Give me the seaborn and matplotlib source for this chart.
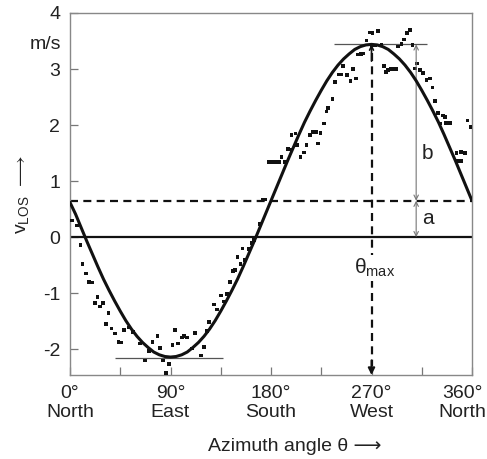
import numpy as np
import pandas as pd
import seaborn as sns
import matplotlib.pyplot as plt
import matplotlib.transforms as mtransforms

# fitted sine curve, read every 5 degrees
fit_deg = list(range(0, 365, 5))
fit_v = [0.62, 0.41, 0.17, -0.07, -0.30, -0.53, -0.75, -0.95, -1.14, -1.32,
         -1.49, -1.64, -1.77, -1.88, -1.97, -2.05, -2.10, -2.13, -2.14, -2.13,
         -2.10, -2.05, -1.97, -1.88, -1.77, -1.64, -1.49, -1.32, -1.14, -0.95,
         -0.75, -0.53, -0.30, -0.07, 0.17, 0.41, 0.65, 0.89, 1.13, 1.37,
         1.60, 1.83, 2.05, 2.25, 2.44, 2.62, 2.79, 2.94, 3.07, 3.18,
         3.27, 3.35, 3.40, 3.43, 3.44, 3.43, 3.40, 3.35, 3.27, 3.18,
         3.07, 2.94, 2.79, 2.62, 2.44, 2.25, 2.05, 1.83, 1.60, 1.37,
         1.13, 0.89, 0.65]

# measured radial velocities
obs_deg = [1.5, 6, 9.5, 11.3, 14.3, 17.3, 20, 22.4, 24.5, 26.9, 29.8, 32.2, 34.6,
           37.3, 40.3, 43.3, 45.7, 48.6, 52.8, 56.7, 62.7, 67.1, 71, 74, 78.5,
           80.6, 83.5, 86, 88.9, 91.9, 94, 97, 100, 102.3, 105, 109, 112, 117.3,
           120, 122.4, 124.4, 129, 131.9, 135, 138, 140.8, 143, 146, 147.7, 150,
           152.8, 154.6, 156.7, 160.5, 162.6, 165, 170, 172.5, 175, 178, 181,
           184, 187, 189.5, 192.5, 195.4, 198.4, 198.4, 202, 203.5, 206.5, 209.5,
           211.9, 214.9, 217.8, 220, 222.3, 224.4, 227.5, 229.8, 231.3, 235.2,
           237.2, 241, 243, 244.7, 248.3, 251.3, 253.7, 256, 258, 260.3, 262.6,
           265.6, 268.6, 271, 276, 270, 273, 279, 281, 283, 285, 287.5, 290, 292,
           294, 297, 299, 302, 304.4, 306.8, 308.9, 311, 313.3, 316.3, 319.3,
           322.3, 324.7, 326.8, 329.7, 331.9, 334, 335.7, 337, 340, 346, 347.6,
           350, 350.7, 353.6, 356, 358.7]
obs_v = [0.30, 0.21, -0.14, -0.48, -0.65, -0.80, -0.81, -1.18, -1.07, -1.24, -1.17,
         -1.55, -1.35, -1.63, -1.72, -1.87, -1.88, -1.66, -1.61, -1.69, -1.90, -2.20,
         -2.03, -1.87, -1.77, -1.98, -2.20, -2.43, -2.26, -1.93, -1.66, -1.90, -1.79,
         -1.77, -1.79, -1.99, -1.71, -2.11, -1.96, -1.68, -1.51, -1.20, -1.29, -1.04,
         -1.15, -1.02, -0.80, -0.60, -0.59, -0.35, -0.48, -0.20, -0.41, -0.21, -0.10,
         -0.05, 0.24, 0.67, 0.67, 1.34, 1.34, 1.34, 1.34, 1.43, 1.34, 1.57, 1.55,
         1.82, 1.85, 1.64, 1.43, 1.51, 1.64, 1.82, 1.88, 1.88, 1.67, 1.86, 2.03,
         2.24, 2.31, 2.46, 2.77, 2.90, 2.90, 3.05, 2.89, 2.79, 3.00, 2.83, 3.26,
         3.27, 3.28, 3.51, 3.65, 3.64, 3.68, 3.42, 3.42, 3.43, 3.05, 2.95, 2.98,
         3.00, 3.00, 3.00, 3.40, 3.45, 3.53, 3.64, 3.70, 3.43, 3.01, 3.10, 2.98,
         2.93, 2.80, 2.83, 2.67, 2.43, 2.21, 2.03, 2.17, 2.15, 2.04, 2.04, 1.50,
         1.36, 1.52, 1.36, 1.50, 2.08, 1.97]

offset_a = 0.65
peak_v = 3.44
trough_v = -2.16
theta_max = 270
b_pos = 310

tick_pos = [0, 90, 180, 270, 360]
tick_labels = ["0°\nNorth", "90°\nEast", "180°\nSouth", "270°\nWest", "360°\nNorth"]
y_ticks = [-2, -1, 0, 1, 2, 3, 4]

sns.set_style("ticks")
plt.rcParams['font.family'] = ['Liberation Sans', 'DejaVu Sans']
plt.rcParams['mathtext.fontset'] = 'custom'
plt.rcParams['mathtext.rm'] = 'Liberation Sans'
txt = '#222222'

fig = plt.figure(figsize=(4.87, 4.59), dpi=100)
ax = fig.add_axes([70 / 487, 84 / 459, 402 / 487, 362 / 459])

fit = pd.DataFrame({"deg": fit_deg, "v": fit_v})
obs = pd.DataFrame({"deg": obs_deg, "v": obs_v})

sns.scatterplot(data=obs, x="deg", y="v", marker="s", s=7, color="#111111",
                edgecolor="none", ax=ax, zorder=3)
sns.lineplot(data=fit, x="deg", y="v", color="#111111", lw=2.2, sort=False,
             estimator=None, ax=ax, zorder=4)

ax.axhline(0, color="#111111", lw=1.6, zorder=2)
ax.axhline(offset_a, color="#111111", lw=1.6, linestyle=(0, (3.6, 2.4)), zorder=2)
ax.hlines(peak_v, 236, 320, color="#555555", lw=0.9, zorder=2)
ax.hlines(trough_v, 40, 137, color="#555555", lw=0.9, zorder=2)

# theta_max dashed marker
ax.plot([theta_max, theta_max], [peak_v - 0.15, -2.3], color="#111111", lw=1.6,
        linestyle=(0, (3.6, 2.4)), zorder=2)
ax.annotate("", xy=(theta_max, -2.46), xytext=(theta_max, -2.2),
            arrowprops=dict(arrowstyle="-|>", color="#111111", lw=1.4,
                            shrinkA=0, shrinkB=0, mutation_scale=10))
ax.annotate("", xy=(theta_max, peak_v), xytext=(theta_max, peak_v - 0.3),
            arrowprops=dict(arrowstyle="->", color="#111111", lw=1.2,
                            shrinkA=0, shrinkB=0, mutation_scale=7))
ax.text(theta_max + 3, -0.55, r"θ$_{\mathregular{max}}$", fontsize=15, color=txt,
        ha="center", va="center", zorder=5,
        bbox=dict(facecolor="white", edgecolor="none", pad=1))

# a and b arrows
arr = dict(arrowstyle="<->", color="#777777", lw=0.8, shrinkA=0, shrinkB=0,
           mutation_scale=8)
ax.annotate("", xy=(b_pos, peak_v), xytext=(b_pos, offset_a), arrowprops=arr)
ax.annotate("", xy=(b_pos, offset_a), xytext=(b_pos, 0), arrowprops=arr)
ax.text(b_pos + 5, 1.5, "b", fontsize=15, color=txt, ha="left", va="center")
ax.text(b_pos + 5, 0.34, "a", fontsize=15, color=txt, ha="left", va="center")

ax.set_xlim(0, 360)
ax.set_ylim(-2.46, 4)
ax.set_xticks(np.arange(0, 361, 45))
ax.set_xticklabels([tick_labels[tick_pos.index(t)] if t in tick_pos else ""
                    for t in range(0, 361, 45)])
ax.set_yticks(y_ticks)
ax.set_yticklabels([str(t) for t in y_ticks])
ax.tick_params(direction="in", length=6, width=0.9, color="#777777",
               labelsize=14, labelcolor=txt, pad=7)
xl = ax.get_xticklabels()
for t in xl:
    t.set_linespacing(1.15)
# last label nudged left so it stays inside the figure
shift = mtransforms.ScaledTranslation(-10 / 100, 0, fig.dpi_scale_trans)
xl[-1].set_transform(xl[-1].get_transform() + shift)
for s in ax.spines.values():
    s.set_color("#888888")
    s.set_linewidth(1.0)

ax.text(-0.022, 3.43, "m/s", transform=ax.get_yaxis_transform(), fontsize=14,
        color=txt, ha="right", va="center")

ax.set_xlabel("Azimuth angle θ ⟶", fontsize=14, color=txt)
ax.xaxis.set_label_coords(0.56, -0.175)
ax.set_ylabel(r"v$_{\mathregular{LOS}}\ \longrightarrow$", fontsize=14, color=txt)
ax.yaxis.set_label_coords(-0.095, 0.5)

fig.savefig("out.png", dpi=100)
